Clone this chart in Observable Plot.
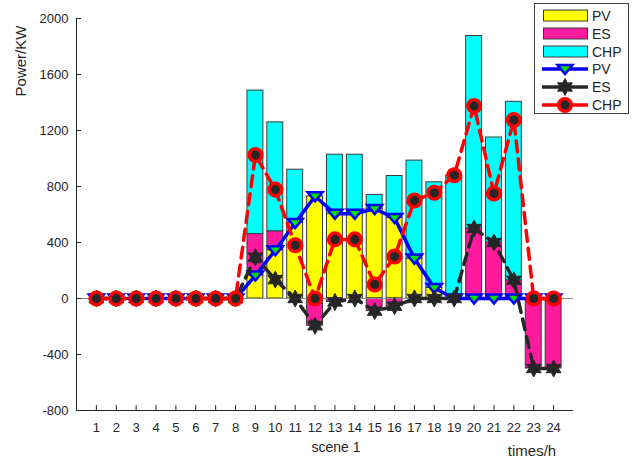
<!DOCTYPE html>
<html><head><meta charset="utf-8">
<script src="https://cdn.jsdelivr.net/npm/d3@7"></script>
<script src="https://cdn.jsdelivr.net/npm/@observablehq/plot@0.6"></script>
<style>body{margin:0;background:#fff} #chart{width:632px;height:461px}</style>
</head><body><div id="chart"></div>
<script>
const hours = [1,2,3,4,5,6,7,8,9,10,11,12,13,14,15,16,17,18,19,20,21,22,23,24];
const seriesNames = ["PV","ES","CHP"];
const pv  = [0,0,0,0,0,0,0,0,165,345,540,730,605,605,640,575,285,75,0,0,0,0,0,0];
const es  = [0,0,0,0,0,0,0,0,295,135,0,-195,-25,0,-90,-55,0,0,0,500,400,130,-500,-500];
const chp = [0,0,0,0,0,0,0,0,1025,778,380,0,422,422,100,300,700,755,880,1375,750,1275,0,0];
const yTicks = [-800,-400,0,400,800,1200,1600,2000];
const barColors = ["#FFFF00","#FF1A9E","#00FFFF"];
const xLabel = "scene 1";
const xUnitLabel = "times/h";
const yLabel = "Power/KW";

const seriesVals = {PV: pv, ES: es, CHP: chp};
const bars = [];
hours.forEach((h, i) => seriesNames.forEach(s => bars.push({h, series: s, value: seriesVals[s][i]})));
const rows = s => hours.map((h, i) => ({h, value: seriesVals[s][i]}));

const triDown = {draw(ctx, size) {
  const r = Math.sqrt(size / Math.PI);
  ctx.moveTo(-1.25 * r, -0.67 * r); ctx.lineTo(1.25 * r, -0.67 * r); ctx.lineTo(0, 0.85 * r); ctx.closePath();
}};
const hexagram = {draw(ctx, size) {
  const R = Math.sqrt(size / Math.PI), r = R * 0.55;
  for (let k = 0; k < 12; k++) {
    const a = -Math.PI / 2 + k * Math.PI / 6, rr = k % 2 ? r : R;
    const x = rr * Math.cos(a), y = rr * Math.sin(a);
    k ? ctx.lineTo(x, y) : ctx.moveTo(x, y);
  }
  ctx.closePath();
}};

const font = "'Liberation Sans', Arial, sans-serif";
const ink = "#262626";

const plot = Plot.plot({
  width: 632, height: 461,
  marginLeft: 76, marginRight: 59, marginTop: 18, marginBottom: 51,
  style: {fontFamily: font, fontSize: "13px", color: ink, background: "white"},
  x: {domain: [0, 25], axis: null},
  y: {domain: [-800, 2000], axis: null},
  color: {domain: seriesNames, range: barColors},
  marks: [
    Plot.rectY(bars, Plot.stackY({x1: d => d.h - 0.4, x2: d => d.h + 0.4, y: "value", fill: "series", stroke: "#3a3a3a", strokeWidth: 1})),
    Plot.ruleY([0], {stroke: "#8c8c8c", strokeWidth: 1}),
    Plot.line(rows("PV"), {x: "h", y: "value", stroke: "#0000FF", strokeWidth: 3.5}),
    Plot.dot(rows("PV"), {x: "h", y: "value", symbol: triDown, r: 6, fill: "#00E000", stroke: "#0000FF", strokeWidth: 2.5}),
    Plot.line(rows("ES"), {x: "h", y: "value", stroke: ink, strokeWidth: 3.5, strokeDasharray: "11,7"}),
    Plot.dot(rows("ES"), {x: "h", y: "value", symbol: hexagram, r: 8.5, fill: ink, stroke: ink, strokeWidth: 1}),
    Plot.line(rows("CHP"), {x: "h", y: "value", stroke: "#FF0000", strokeWidth: 3.5, strokeDasharray: "11,7"}),
    Plot.dot(rows("CHP"), {x: "h", y: "value", r: 6.3, fill: ink, stroke: "#FF0000", strokeWidth: 3.5}),
    Plot.ruleX([0], {y1: -800, y2: 2000, stroke: ink}),
    Plot.ruleY([-800], {x1: 0, x2: 25, stroke: ink}),
    Plot.ruleY(yTicks, {x1: 0, x2: 0.25, stroke: ink}),
    Plot.ruleX(hours, {y1: -800, y2: -765, stroke: ink}),
    Plot.axisX(hours, {tickSize: 0, tickPadding: 12, label: null, fill: ink, fontSize: 13}),
    Plot.axisY(yTicks, {tickSize: 0, tickPadding: 8, label: null, tickFormat: d => String(d), fill: ink, fontSize: 13})
  ]
});
document.getElementById("chart").appendChild(plot);

const svg = d3.select(plot);
const t = (x, y, s, opts = {}) => svg.append("text").attr("x", x).attr("y", y).text(s)
  .attr("font-family", font).attr("font-size", opts.size || 13).attr("fill", ink)
  .attr("text-anchor", opts.anchor || "middle");
t(336, 452, xLabel, {size: 14});
t(532, 456, xUnitLabel, {size: 15});
svg.append("text").text(yLabel).attr("transform", "translate(26,61) rotate(-90)")
  .attr("text-anchor", "middle").attr("font-family", font).attr("font-size", 15).attr("fill", ink);

// legend
const lg = svg.append("g").attr("text-anchor", "start");
lg.append("rect").attr("x", 534.5).attr("y", 3.5).attr("width", 94).attr("height", 110)
  .attr("fill", "white").attr("stroke", "#404040");
const rowY = [15.5, 33.5, 51.5, 69, 87, 105];
seriesNames.forEach((s, i) => {
  lg.append("rect").attr("x", 543.5).attr("y", rowY[i] - 5.5).attr("width", 44).attr("height", 11)
    .attr("fill", barColors[i]).attr("stroke", "#3a3a3a");
  lg.append("text").attr("x", 592).attr("y", rowY[i] + 5).text(s).attr("text-anchor", "start")
    .attr("font-family", font).attr("font-size", 14).attr("fill", ink);
});
const lineStyles = [
  {stroke: "#0000FF", sym: triDown, size: Math.PI * 36, fill: "#00E000", sw: 2.5},
  {stroke: ink, sym: hexagram, size: Math.PI * 8.5 * 8.5, fill: ink, sw: 1},
  {stroke: "#FF0000", sym: d3.symbolCircle, size: Math.PI * 6.3 * 6.3, fill: ink, sw: 3.5}
];
seriesNames.forEach((s, i) => {
  const y = rowY[i + 3], st = lineStyles[i];
  lg.append("line").attr("x1", 542).attr("x2", 588).attr("y1", y).attr("y2", y)
    .attr("stroke", st.stroke).attr("stroke-width", 3.5);
  lg.append("path").attr("d", d3.symbol(st.sym, st.size)()).attr("transform", `translate(565,${y})`)
    .attr("fill", st.fill).attr("stroke", st.stroke).attr("stroke-width", st.sw);
  lg.append("text").attr("x", 592).attr("y", y + 5).text(s).attr("text-anchor", "start")
    .attr("font-family", font).attr("font-size", 14).attr("fill", ink);
});
</script></body></html>
